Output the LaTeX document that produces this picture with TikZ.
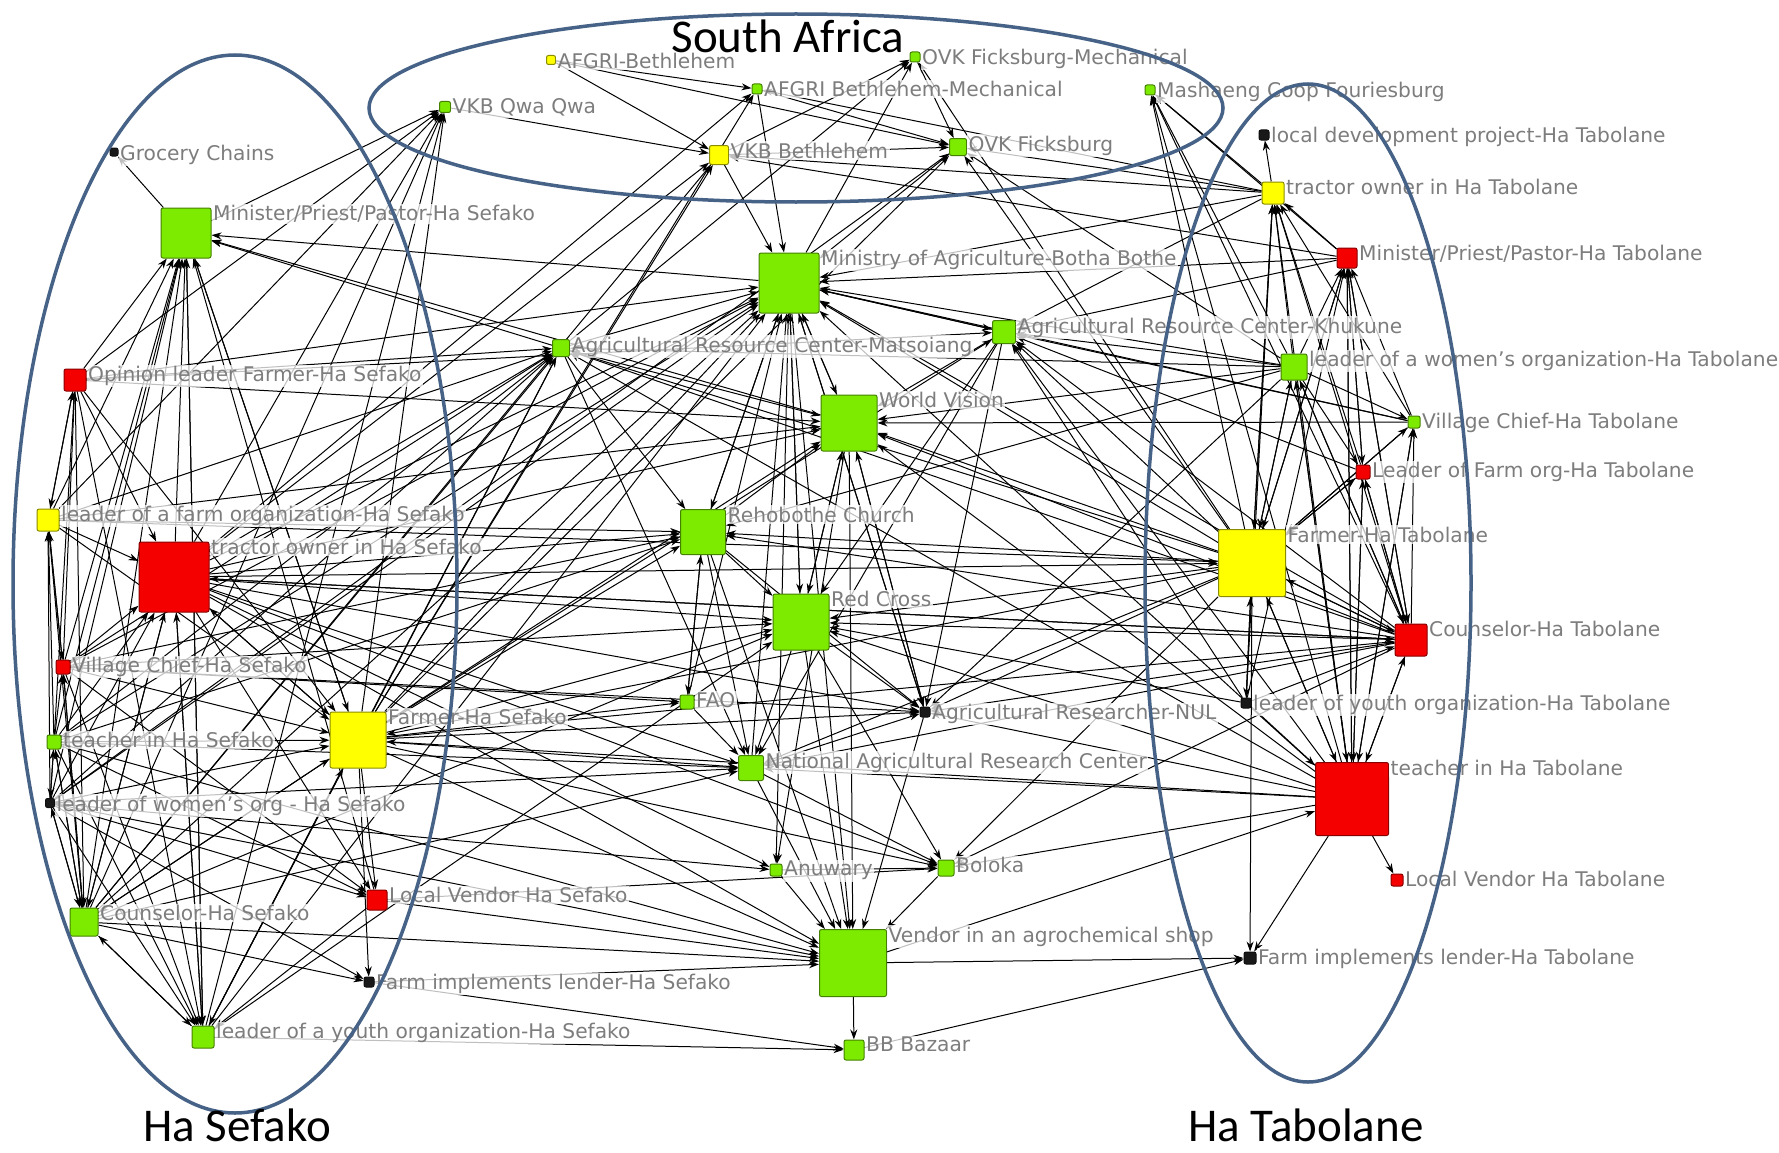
\documentclass[tikz,border=0pt]{standalone}
\usepackage{fontspec}
\setmainfont{DejaVu Sans}
\newfontfamily\regionfont{Carlito}
\usetikzlibrary{arrows.meta,backgrounds}
\definecolor{limeg}{RGB}{125,235,0}
\definecolor{yelw}{RGB}{255,255,0}
\definecolor{redn}{RGB}{245,0,0}
\definecolor{blkn}{RGB}{25,25,25}
\definecolor{labgray}{RGB}{125,125,125}
\definecolor{ringblue}{RGB}{70,98,135}
\begin{document}
\begin{tikzpicture}[x=1pt,y=-1pt,>={Stealth[length=10pt,width=7pt]},
	sq/.style={draw=#1!55!black,fill=#1,rounded corners=2pt,inner sep=0pt,line width=1pt},
	lbl/.style={anchor=north west,yshift=4pt,text=labgray,font=\fontsize{20.2}{23}\selectfont,fill=white,fill opacity=0.75,text opacity=1,inner sep=1.5pt},
	tie/.style={->,line width=1pt},
	ring/.style={draw=ringblue,line width=3.5pt},
	region/.style={font=\regionfont\fontsize{47}{50}\selectfont,anchor=base,text depth=0pt,inner sep=1pt}]
	\useasboundingbox (0,0) rectangle (1779,1153);
	% South Africa
	\node[sq=yelw,minimum size=9,label={[lbl]north east:AFGRI-Bethlehem}] (afgriB) at (551,60) {};
	\node[sq=limeg,minimum size=10,label={[lbl]north east:OVK Ficksburg-Mechanical}] (ovkFM) at (915,57) {};
	\node[sq=limeg,minimum size=10,label={[lbl]north east:AFGRI Bethlehem-Mechanical}] (afgriBM) at (757,89) {};
	\node[sq=limeg,minimum size=10,label={[lbl]north east:Mashaeng Coop Fouriesburg}] (mashaeng) at (1150,90) {};
	\node[sq=limeg,minimum size=11,label={[lbl]north east:VKB Qwa Qwa}] (vkbQQ) at (445,107) {};
	\node[sq=yelw,minimum size=19,label={[lbl]north east:VKB Bethlehem}] (vkbB) at (719,155) {};
	\node[sq=limeg,minimum size=17,label={[lbl]north east:OVK Ficksburg}] (ovkF) at (958,147) {};
	% Ha Sefako
	\node[sq=blkn,minimum size=8,label={[lbl]north east:Grocery Chains}] (grocery) at (114,152) {};
	\node[sq=limeg,minimum size=50,label={[lbl]north east:Minister/Priest/Pastor-Ha Sefako}] (ministerS) at (186,233) {};
	\node[sq=redn,minimum size=22,label={[lbl]north east:Opinion leader Farmer-Ha Sefako}] (opinionS) at (75,380) {};
	\node[sq=yelw,minimum size=22,label={[lbl]north east:leader of a farm organization-Ha Sefako}] (farmorgS) at (48,520) {};
	\node[sq=redn,minimum size=70,label={[lbl]north east:tractor owner in Ha Sefako}] (tractS) at (174,577) {};
	\node[sq=redn,minimum size=14,label={[lbl]north east:Village Chief-Ha Sefako}] (villageS) at (63,667) {};
	\node[sq=limeg,minimum size=14,label={[lbl]north east:teacher in Ha Sefako}] (teachS) at (54,742) {};
	\node[sq=yelw,minimum size=56,label={[lbl]north east:Farmer-Ha Sefako}] (farmerS) at (358,740) {};
	\node[sq=blkn,minimum size=9,label={[lbl]north east:leader of women's org - Ha Sefako}] (womenS) at (50,803) {};
	\node[sq=limeg,minimum size=28,label={[lbl]north east:Counselor-Ha Sefako}] (counsS) at (84,922) {};
	\node[sq=redn,minimum size=20,label={[lbl]north east:Local Vendor Ha Sefako}] (localvS) at (377,900) {};
	\node[sq=blkn,minimum size=10,label={[lbl]north east:Farm implements lender-Ha Sefako}] (implS) at (369,982) {};
	\node[sq=limeg,minimum size=22,label={[lbl]north east:leader of a youth organization-Ha Sefako}] (youthS) at (203,1037) {};
	% centre
	\node[sq=limeg,minimum size=60,label={[lbl]north east:Ministry of Agriculture-Botha Bothe}] (moa) at (789,283) {};
	\node[sq=limeg,minimum size=17,label={[lbl]north east:Agricultural Resource Center-Matsoiang}] (arcM) at (561,348) {};
	\node[sq=limeg,minimum size=23,label={[lbl]north east:Agricultural Resource Center-Khukune}] (arcK) at (1004,332) {};
	\node[sq=limeg,minimum size=56,label={[lbl]north east:World Vision}] (worldv) at (849,423) {};
	\node[sq=limeg,minimum size=45,label={[lbl]north east:Rehobothe Church}] (rehob) at (703,532) {};
	\node[sq=limeg,minimum size=56,label={[lbl]north east:Red Cross}] (redcross) at (801,622) {};
	\node[sq=limeg,minimum size=14,label={[lbl]north east:FAO}] (fao) at (687,702) {};
	\node[sq=blkn,minimum size=10,label={[lbl]north east:Agricultural Researcher-NUL}] (nul) at (925,712) {};
	\node[sq=limeg,minimum size=25,label={[lbl]north east:National Agricultural Research Center}] (narc) at (751,768) {};
	\node[sq=limeg,minimum size=12,label={[lbl]north east:Anuwary}] (anuwary) at (776,870) {};
	\node[sq=limeg,minimum size=16,label={[lbl]north east:Boloka}] (boloka) at (946,868) {};
	\node[sq=limeg,minimum size=67,label={[lbl]north east:Vendor in an agrochemical shop}] (agrochem) at (853,963) {};
	\node[sq=limeg,minimum size=20,label={[lbl]north east:BB Bazaar}] (bazaar) at (854,1050) {};
	% Ha Tabolane
	\node[sq=blkn,minimum size=10,label={[lbl]north east:local development project-Ha Tabolane}] (ldpT) at (1264,135) {};
	\node[sq=yelw,minimum size=22,label={[lbl]north east:tractor owner in Ha Tabolane}] (tractT) at (1273,193) {};
	\node[sq=redn,minimum size=20,label={[lbl]north east:Minister/Priest/Pastor-Ha Tabolane}] (ministerT) at (1347,258) {};
	\node[sq=limeg,minimum size=26,label={[lbl]north east:leader of a women's organization-Ha Tabolane}] (womenT) at (1294,367) {};
	\node[sq=limeg,minimum size=12,label={[lbl]north east:Village Chief-Ha Tabolane}] (villageT) at (1414,422) {};
	\node[sq=redn,minimum size=14,label={[lbl]north east:Leader of Farm org-Ha Tabolane}] (farmorgT) at (1363,472) {};
	\node[sq=yelw,minimum size=67,label={[lbl]north east:Farmer-Ha Tabolane}] (farmerT) at (1252,563) {};
	\node[sq=redn,minimum size=32,label={[lbl]north east:Counselor-Ha Tabolane}] (counsT) at (1411,640) {};
	\node[sq=blkn,minimum size=10,label={[lbl]north east:leader of youth organization-Ha Tabolane}] (youthT) at (1246,703) {};
	\node[sq=redn,minimum size=73,label={[lbl]north east:teacher in Ha Tabolane}] (teachT) at (1352,799) {};
	\node[sq=redn,minimum size=12,label={[lbl]north east:Local Vendor Ha Tabolane}] (localvT) at (1397,880) {};
	\node[sq=blkn,minimum size=12,label={[lbl]north east:Farm implements lender-Ha Tabolane}] (implT) at (1250,958) {};

	\begin{pgfonlayer}{background}
	% ties inside Ha Sefako
	\foreach \a/\b in {ministerS/grocery,opinionS/ministerS,farmorgS/ministerS,tractS/ministerS,villageS/ministerS,teachS/ministerS,womenS/ministerS,counsS/ministerS,youthS/ministerS,farmerS/ministerS,localvS/ministerS,
		farmorgS/opinionS,villageS/opinionS,teachS/opinionS,opinionS/farmorgS,villageS/farmorgS,teachS/farmorgS,womenS/farmorgS,farmorgS/villageS,teachS/villageS,counsS/villageS,womenS/teachS,counsS/teachS,teachS/womenS,counsS/womenS,
		farmorgS/tractS,villageS/tractS,teachS/tractS,womenS/tractS,counsS/tractS,youthS/tractS,farmerS/tractS,opinionS/tractS,
		teachS/farmerS,farmorgS/farmerS,villageS/farmerS,womenS/farmerS,counsS/farmerS,youthS/farmerS,tractS/farmerS,opinionS/farmerS,ministerS/farmerS,
		opinionS/counsS,farmorgS/counsS,villageS/counsS,teachS/counsS,womenS/counsS,tractS/counsS,farmerS/counsS,youthS/counsS,
		opinionS/youthS,tractS/youthS,womenS/youthS,counsS/youthS,farmerS/youthS,localvS/youthS,teachS/youthS,villageS/youthS,ministerS/youthS,
		womenS/localvS,tractS/localvS,farmerS/localvS,villageS/localvS,teachS/localvS,counsS/implS,womenS/implS,farmerS/implS}
		\draw[tie] (\a) -- (\b);
	% Ha Sefako to the rest
	\foreach \a/\b in {opinionS/vkbQQ,tractS/vkbQQ,farmerS/vkbQQ,counsS/vkbQQ,youthS/vkbQQ,ministerS/vkbQQ,farmorgS/vkbQQ,
		farmerS/afgriBM,tractS/afgriBM,farmerS/vkbB,tractS/vkbB,counsS/vkbB,womenS/ovkF,farmerS/ovkF,
		opinionS/worldv,farmorgS/worldv,tractS/worldv,farmerS/worldv,moa/ministerS,worldv/ministerS,arcM/ministerS,
		farmerS/moa,tractS/moa,opinionS/moa,youthS/moa,counsS/moa,womenS/moa,villageS/moa,teachS/moa,
		farmerS/arcM,tractS/arcM,counsS/arcM,youthS/arcM,womenS/arcM,teachS/arcM,villageS/arcM,farmorgS/arcM,opinionS/arcM,
		farmerS/rehob,tractS/rehob,farmorgS/rehob,teachS/rehob,villageS/rehob,
		farmerS/redcross,villageS/redcross,tractS/redcross,counsS/redcross,youthS/redcross,
		tractS/nul,tractS/boloka,farmerS/boloka,farmerS/nul,villageS/nul,
		teachS/narc,farmerS/narc,womenS/narc,tractS/narc,counsS/narc,
		counsS/agrochem,localvS/agrochem,implS/agrochem,womenS/agrochem,farmerS/agrochem,tractS/agrochem,teachS/agrochem,
		youthS/bazaar,implS/bazaar,farmerS/fao,tractS/anuwary,womenS/anuwary,villageS/fao,
		farmerS/counsT,tractS/counsT,farmorgS/farmerT,opinionS/arcK,tractS/farmerT,farmerS/arcK,localvS/boloka}
		\draw[tie] (\a) -- (\b);
	% ties inside Ha Tabolane
	\foreach \a/\b in {tractT/ldpT,ministerT/tractT,womenT/tractT,farmerT/tractT,counsT/tractT,villageT/tractT,teachT/tractT,youthT/tractT,farmorgT/tractT,
		womenT/ministerT,farmerT/ministerT,counsT/ministerT,villageT/ministerT,teachT/ministerT,farmorgT/ministerT,youthT/ministerT,
		farmerT/womenT,counsT/womenT,teachT/womenT,counsT/villageT,farmerT/villageT,womenT/villageT,teachT/villageT,
		womenT/farmorgT,teachT/farmorgT,counsT/farmorgT,farmerT/farmorgT,ministerT/farmorgT,
		ministerT/farmerT,womenT/farmerT,counsT/farmerT,teachT/farmerT,youthT/farmerT,villageT/farmerT,farmorgT/farmerT,tractT/farmerT,
		farmerT/counsT,teachT/counsT,youthT/counsT,womenT/counsT,ministerT/counsT,farmorgT/counsT,
		farmerT/teachT,counsT/teachT,youthT/teachT,womenT/teachT,farmorgT/teachT,villageT/teachT,ministerT/teachT,
		teachT/localvT,teachT/implT,farmerT/implT,farmerT/youthT}
		\draw[tie] (\a) -- (\b);
	% Ha Tabolane to the rest
	\foreach \a/\b in {tractT/mashaeng,farmerT/mashaeng,ministerT/mashaeng,womenT/mashaeng,counsT/mashaeng,teachT/mashaeng,
		farmerT/ovkF,tractT/ovkF,farmerT/ovkFM,womenT/ovkF,tractT/afgriBM,ministerT/vkbB,tractT/vkbB,
		farmerT/moa,counsT/moa,teachT/moa,womenT/moa,tractT/moa,ministerT/moa,villageT/moa,
		farmerT/arcK,womenT/arcK,counsT/arcK,teachT/arcK,villageT/arcK,youthT/arcK,tractT/arcK,ministerT/arcK,farmorgT/arcK,
		farmerT/worldv,counsT/worldv,teachT/worldv,villageT/worldv,womenT/worldv,
		farmerT/redcross,counsT/redcross,teachT/redcross,youthT/redcross,farmerT/rehob,counsT/rehob,womenT/rehob,
		farmerT/nul,teachT/nul,counsT/nul,womenT/nul,farmerT/boloka,teachT/boloka,counsT/boloka,
		farmerT/narc,counsT/narc,teachT/narc,agrochem/teachT,bazaar/implT,agrochem/implT,
		farmerT/arcM,counsT/arcM,teachT/arcM,womenT/arcM,counsT/tractS,farmerT/farmerS,teachT/farmerS}
		\draw[tie] (\a) -- (\b);
	% centre and South Africa
	\foreach \a/\b in {vkbB/moa,afgriBM/moa,ovkF/moa,vkbQQ/vkbB,vkbB/ovkF,afgriB/vkbB,afgriB/ovkF,afgriBM/ovkF,
		arcM/ovkFM,moa/ovkFM,vkbB/ovkFM,afgriB/afgriBM,ovkFM/ovkF,
		moa/arcK,worldv/moa,redcross/moa,rehob/moa,narc/moa,fao/moa,nul/moa,arcM/moa,arcK/moa,
		arcK/worldv,moa/worldv,redcross/worldv,arcM/worldv,rehob/worldv,nul/worldv,
		rehob/fao,fao/rehob,rehob/narc,fao/narc,redcross/narc,redcross/nul,worldv/nul,rehob/nul,narc/nul,arcK/nul,moa/nul,
		anuwary/boloka,narc/boloka,redcross/boloka,
		narc/agrochem,redcross/agrochem,anuwary/agrochem,nul/agrochem,boloka/agrochem,rehob/agrochem,worldv/agrochem,moa/agrochem,
		agrochem/bazaar,arcK/redcross,moa/redcross,worldv/redcross,rehob/redcross,
		arcM/rehob,moa/rehob,arcK/narc,worldv/anuwary,moa/anuwary,arcM/narc}
		\draw[tie] (\a) -- (\b);
	\end{pgfonlayer}

	% the three groups
	\draw[ring] (796,108) ellipse [x radius=427, y radius=94];
	\draw[ring] (235,584) ellipse [x radius=222, y radius=529];
	\draw[ring] (1308,583) ellipse [x radius=163, y radius=499];
	\node[region] (lblSA) at (788,53) {South Africa};
	\node[region] (lblSef) at (237,1141) {Ha Sefako};
	\node[region] (lblTab) at (1306,1141) {Ha Tabolane};
\end{tikzpicture}
\end{document}
